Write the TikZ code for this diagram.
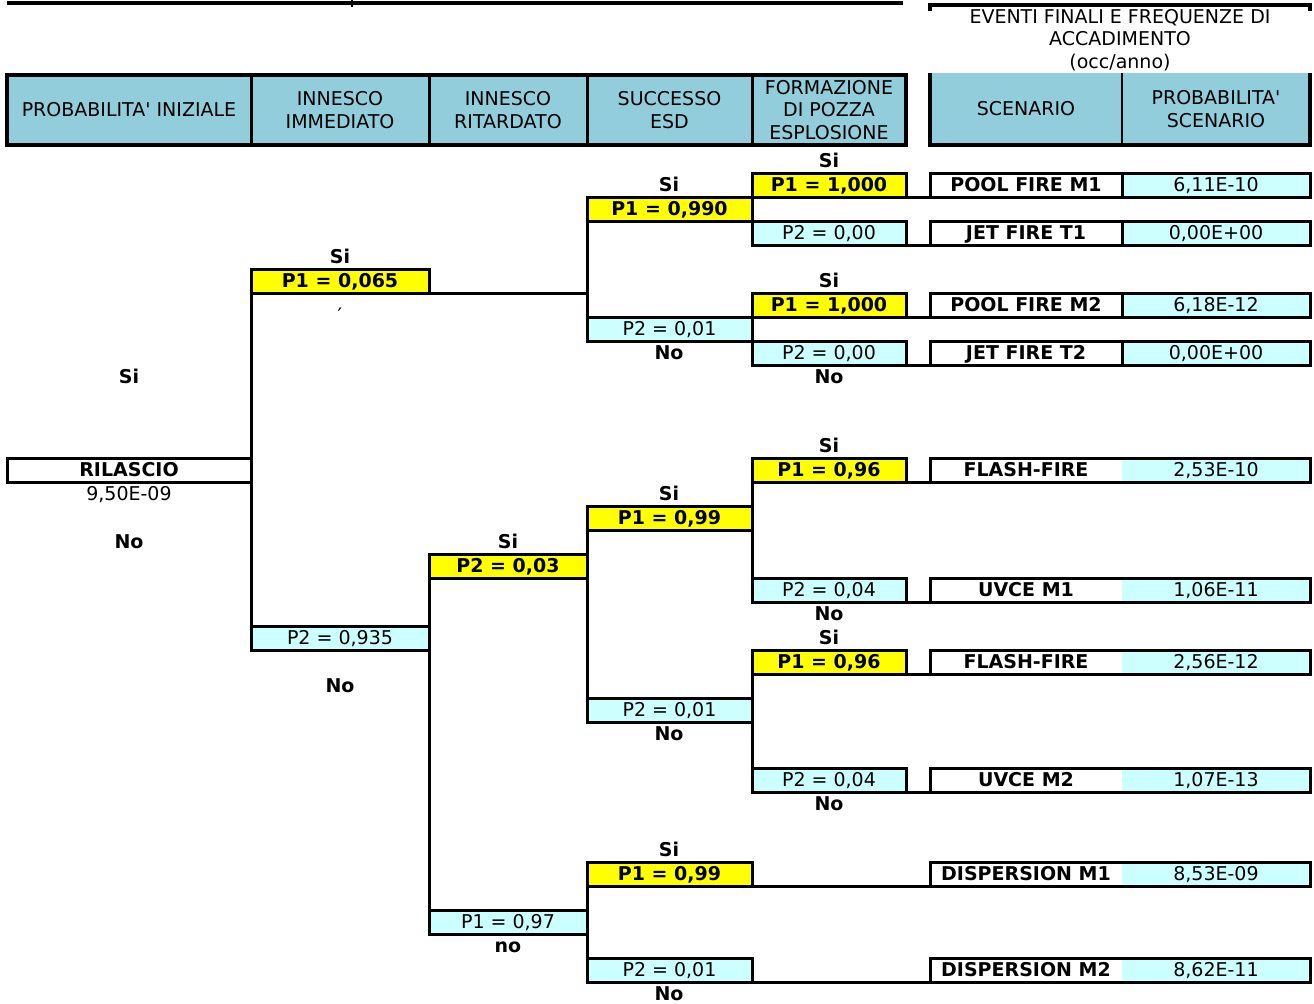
\documentclass[tikz,border=0pt]{standalone}
\usepackage{fontspec}
\setmainfont{DejaVu Sans}[Ligatures=TeXOff]
\definecolor{hdrblue}{HTML}{92CDDC}
\definecolor{ylw}{HTML}{FFFF00}
\definecolor{cyn}{HTML}{CCFFFF}
% cell of the tree: name, left x, right x, centre y, style, text
\newcommand\cellnode[6]{%
  \node[#5, minimum width={(#3-#2)*0.5pt}] (#1) at ({(#2+#3)/2},#4) {#6};}
% final scenario row: name, centre y, scenario, frequency
\newcommand\scenrow[4]{%
  \node[scname, minimum width=96pt] (#1n) at (1026,#2) {#3};
  \node[scval, minimum width=94pt] (#1v) at (1216,#2) {#4};
  \draw[branch] (#1n.north west) rectangle (#1v.south east);}
\begin{document}
\begin{tikzpicture}[x=0.5pt,y=-0.5pt,
  every node/.style={outer sep=0pt},
  base/.style={font=\fontsize{9.5}{11.3}\selectfont, inner sep=0pt},
  row/.style={base, text height=6.9pt, text depth=0pt},
  bold/.style={row, font=\fontsize{9.5}{11.3}\selectfont\bfseries},
  cellbox/.style={draw, line width=1.5pt, minimum height=12pt},
  yescell/.style={bold, cellbox, fill=ylw},
  nocell/.style={row, cellbox, fill=cyn},
  rootcell/.style={bold, cellbox, fill=white},
  scname/.style={bold, minimum height=12pt, fill=white},
  scval/.style={row, minimum height=12pt, fill=cyn},
  hdr/.style={base, align=center, minimum height=35pt, fill=hdrblue, draw, line width=1.5pt},
  hdrr/.style={base, align=center, minimum height=36pt, fill=hdrblue},
  branch/.style={line width=1.5pt},
  frame/.style={line width=2.2pt},
]
\useasboundingbox (0,0) rectangle (1314,1003);

% top rules
\draw[frame] (7,3) -- (903,3);
\draw[line width=0.6pt] (352,0) -- (352,7);
\draw[line width=1.6pt] (930,11) -- (930,5) -- (1310,5) -- (1310,11);
\node[base, align=center] (title) at (1120,40)
  {EVENTI FINALI E FREQUENZE DI\\ACCADIMENTO\\(occ/anno)};

% column headers
\cellnode{hA}{7}{251}{110}{hdr}{PROBABILITA' INIZIALE}
\cellnode{hB}{251}{429}{110}{hdr}{INNESCO\\IMMEDIATO}
\cellnode{hC}{429}{587}{110}{hdr}{INNESCO\\RITARDATO}
\cellnode{hD}{587}{752}{110}{hdr}{SUCCESSO\\ESD}
\cellnode{hE}{752}{906}{110}{hdr}{FORMAZIONE\\DI POZZA\\ESPLOSIONE}
\draw[frame] (hA.north west) rectangle (hE.south east);
\cellnode{hS}{930}{1122}{109}{hdrr}{SCENARIO}
\cellnode{hP}{1122}{1310}{109}{hdrr}{PROBABILITA'\\SCENARIO}
\draw[frame] (hS.north west) -- (hS.south west) -- (hP.south east) -- (hP.north east);
\draw[line width=1.1pt] (hP.north west) -- (hP.south west);

% initial event
\cellnode{rl}{7}{251}{470}{rootcell}{RILASCIO}
\node[row] (rlf) at (129,494) {9,50E-09};
\node[bold] (rlSi) at (129,377) {Si};
\node[bold] (rlNo) at (129,542) {No};

% immediate ignition
\cellnode{c2y}{251}{429}{281}{yescell}{P1 = 0,065}
\cellnode{c2n}{251}{429}{638}{nocell}{P2 = 0,935}
\node[bold] (c2Si) at (340,257) {Si};
\node[bold] (c2No) at (340,686) {No};
\node[base, font=\fontsize{10}{11}\selectfont] (c2mk) at (340,315) {′};

% delayed ignition
\cellnode{c3y}{429}{587}{566}{yescell}{P2 = 0,03}
\cellnode{c3n}{429}{587}{922}{nocell}{P1 = 0,97}
\node[bold] (c3Si) at (508,542) {Si};
\node[bold] (c3No) at (508,946) {no};

% ESD
\cellnode{c4a}{587}{752}{209}{yescell}{P1 = 0,990}
\cellnode{c4b}{587}{752}{329}{nocell}{P2 = 0,01}
\cellnode{c4c}{587}{752}{518}{yescell}{P1 = 0,99}
\cellnode{c4d}{587}{752}{710}{nocell}{P2 = 0,01}
\cellnode{c4e}{587}{752}{874}{yescell}{P1 = 0,99}
\cellnode{c4f}{587}{752}{970}{nocell}{P2 = 0,01}
\node[bold] (c4aS) at (669,185) {Si};
\node[bold] (c4bN) at (669,353) {No};
\node[bold] (c4cS) at (669,494) {Si};
\node[bold] (c4dN) at (669,734) {No};
\node[bold] (c4eS) at (669,850) {Si};
\node[bold] (c4fN) at (669,994) {No};

% pool formation / explosion
\cellnode{c5a}{752}{906}{185}{yescell}{P1 = 1,000}
\cellnode{c5b}{752}{906}{233}{nocell}{P2 = 0,00}
\cellnode{c5c}{752}{906}{305}{yescell}{P1 = 1,000}
\cellnode{c5d}{752}{906}{353}{nocell}{P2 = 0,00}
\cellnode{c5e}{752}{906}{470}{yescell}{P1 = 0,96}
\cellnode{c5f}{752}{906}{590}{nocell}{P2 = 0,04}
\cellnode{c5g}{752}{906}{662}{yescell}{P1 = 0,96}
\cellnode{c5h}{752}{906}{780}{nocell}{P2 = 0,04}
\node[bold] (c5aS) at (829,161) {Si};
\node[bold] (c5cS) at (829,281) {Si};
\node[bold] (c5dN) at (829,377) {No};
\node[bold] (c5eS) at (829,446) {Si};
\node[bold] (c5fN) at (829,614) {No};
\node[bold] (c5gS) at (829,638) {Si};
\node[bold] (c5hN) at (829,804) {No};

% final scenarios
\scenrow{s1}{185}{POOL FIRE M1}{6,11E-10}
\scenrow{s2}{233}{JET FIRE T1}{0,00E+00}
\scenrow{s3}{305}{POOL FIRE M2}{6,18E-12}
\scenrow{s4}{353}{JET FIRE T2}{0,00E+00}
\scenrow{s5}{470}{FLASH-FIRE}{2,53E-10}
\scenrow{s6}{590}{UVCE M1}{1,06E-11}
\scenrow{s7}{662}{FLASH-FIRE}{2,56E-12}
\scenrow{s8}{780}{UVCE M2}{1,07E-13}
\scenrow{s9}{874}{DISPERSION M1}{8,53E-09}
\scenrow{s10}{970}{DISPERSION M2}{8,62E-11}
\foreach \s in {s1,s2,s3,s4}
  \draw[branch] (\s v.north west) -- (\s v.south west);

% branches
\draw[branch] (c2y.south west) -- (c2n.north west);
\draw[branch] (c2y.south east) -- (c2y.south east -| c4a.west);
\draw[branch] (c3y.south west) -- (c3n.north west);
\draw[branch] (c4a.south west) -- (c4b.north west);
\draw[branch] (c4c.south west) -- (c4d.north west);
\draw[branch] (c4e.south west) -- (c4f.north west);
\draw[branch] (c5a.south west) -- (c5b.north west);
\draw[branch] (c5c.south west) -- (c5d.north west);
\draw[branch] (c5e.south west) -- (c5f.north west);
\draw[branch] (c5g.south west) -- (c5h.north west);
\draw[branch] (c5a.south east) -- (s1n.south west);
\draw[branch] (c5b.south east) -- (s2n.south west);
\draw[branch] (c5c.south east) -- (s3n.south west);
\draw[branch] (c5d.south east) -- (s4n.south west);
\draw[branch] (c5e.south east) -- (s5n.south west);
\draw[branch] (c5f.south east) -- (s6n.south west);
\draw[branch] (c5g.south east) -- (s7n.south west);
\draw[branch] (c5h.south east) -- (s8n.south west);
\draw[branch] (c4e.south east) -- (s9n.south west);
\draw[branch] (c4f.south east) -- (s10n.south west);
\end{tikzpicture}
\end{document}
